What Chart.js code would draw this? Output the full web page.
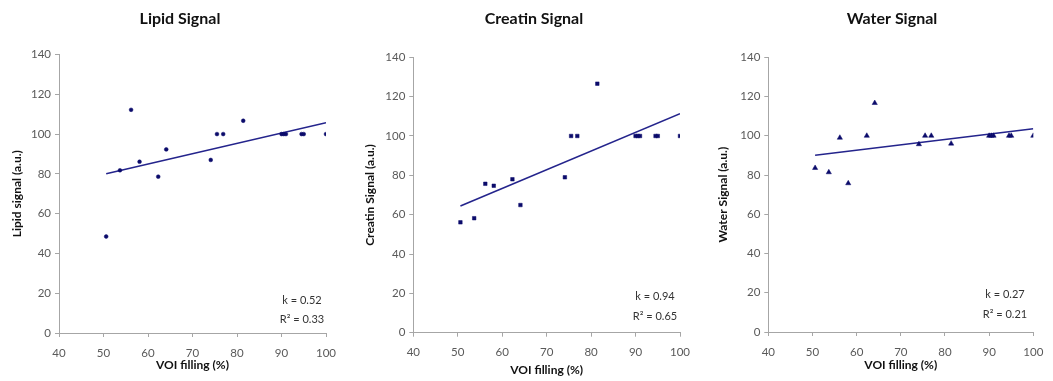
<!DOCTYPE html>
<html><head><meta charset="utf-8">
<script src="https://cdn.jsdelivr.net/npm/chart.js@4.4.1/dist/chart.umd.min.js"></script>
<style>
html,body{margin:0;padding:0;background:#fff;}
#wrap{position:relative;width:1053px;height:381px;overflow:hidden;}
.panel{position:absolute;top:0;height:381px;}
</style></head><body>
<div id="wrap">
<div class="panel" style="left:0;width:350px"><canvas id="c0"></canvas></div>
<div class="panel" style="left:350px;width:350px"><canvas id="c1"></canvas></div>
<div class="panel" style="left:700px;width:353px"><canvas id="c2"></canvas></div>
</div>
<script>
// ---- data ----
const voiFilling    = [50.6, 53.7, 56.2, 58.1, 62.3, 64.1, 74.1, 75.5, 76.9, 81.4, 90.0, 90.5, 91.0, 94.5, 95.0, 100];
const lipidSignal   = [48.5, 81.8, 112.2, 86.1, 78.6, 92.3, 87.0, 100, 100, 106.7, 100, 100, 100, 100, 100, 100];
const creatinSignal = [56.1, 58.2, 75.7, 74.7, 78.0, 64.9, 79.0, 100, 100, 126.6, 100, 100, 100, 100, 100, 100];
const waterSignal   = [83.6, 81.4, 99.0, 75.8, 100, 116.7, 95.7, 100, 100, 96.0, 100, 100, 100, 100, 100, 100];
const trendX        = [50.6, 100];
const lipidTrend    = [80.1, 105.7];
const creatinTrend  = [64.4, 111.3];
const waterTrend    = [90.1, 103.6];
const xTickValues   = [40, 50, 60, 70, 80, 90, 100];
const yTickValues   = [0, 20, 40, 60, 80, 100, 120, 140];
const chartTitles   = ['Lipid Signal', 'Creatin Signal', 'Water Signal'];
const yAxisTitles   = ['Lipid signal (a.u.)', 'Creatin Signal (a.u.)', 'Water Signal (a.u.)'];
const xAxisTitle    = 'VOI filling (%)';
const slopeLabels   = ['k = 0.52', 'k = 0.94', 'k = 0.27'];
const r2Labels      = ['R\u00B2 = 0.33', 'R\u00B2 = 0.65', 'R\u00B2 = 0.21'];

// ---- layout / style ----
const panels = [
  {w:350, aL:59,   aR:326,   aT:54.5, aB:333,   tX:180, tY:19, yTP:10,  xTPB:8.5, annX:302, kY:300.7, rY:319,   pt:'circle',   r:1.9},
  {w:350, aL:63.3, aR:330,   aT:57.3, aB:332.7, tX:184, tY:19, yTP:13,  xTPB:3.5, annX:305, kY:296.7, rY:316.7, pt:'rect',     r:2.5},
  {w:353, aL:68.3, aR:333.3, aT:57.3, aB:332,   tX:192, tY:19, yTP:15.5,xTPB:8.5, annX:305, kY:294.3, rY:314.3, pt:'triangle', r:3.0}
];
const seriesList = [lipidSignal, creatinSignal, waterSignal];
const trendList = [lipidTrend, creatinTrend, waterTrend];
const FONT = 'Lato, "Open Sans", sans-serif';
const markerColor = '#0b0b6b';
const lineColor = '#24248c';
const axisColor = '#a6a6a6';

const textPlugin = {
  id: 'panelText',
  afterDraw(chart, args, o) {
    const ctx = chart.ctx;
    ctx.save();
    ctx.fillStyle = '#111';
    ctx.textAlign = 'center';
    ctx.textBaseline = 'middle';
    ctx.font = 'bold 16px ' + FONT;
    ctx.fillText(o.title, o.tX, o.tY);
    ctx.fillStyle = '#333';
    ctx.font = '11px ' + FONT;
    ctx.fillText(o.k, o.annX, o.kY);
    ctx.fillText(o.r2, o.annX, o.rY);
    ctx.restore();
  }
};

panels.forEach((p, i) => {
  const pts = voiFilling.map((x, j) => ({x: x, y: seriesList[i][j]}));
  const trend = trendX.map((x, j) => ({x: x, y: trendList[i][j]}));
  new Chart(document.getElementById('c' + i), {
    type: 'scatter',
    data: {
      datasets: [
        {type: 'scatter', data: pts, pointStyle: p.pt, pointRadius: p.r, pointBackgroundColor: markerColor, pointBorderColor: markerColor, pointBorderWidth: 0.5},
        {type: 'line', data: trend, borderColor: lineColor, borderWidth: 1.6, pointRadius: 0, fill: false}
      ]
    },
    options: {
      responsive: true, maintainAspectRatio: false, animation: false,
      layout: {padding: {left: 0, right: p.w - p.aR, top: p.aT, bottom: 0}},
      plugins: {
        legend: {display: false}, tooltip: {enabled: false},
        panelText: {title: chartTitles[i], tX: p.tX, tY: p.tY, k: slopeLabels[i], r2: r2Labels[i], annX: p.annX, kY: p.kY, rY: p.rY}
      },
      scales: {
        x: {
          type: 'linear', min: 40, max: 100,
          afterBuildTicks: s => { s.ticks = xTickValues.map(v => ({value: v})); },
          afterFit: s => { s.height = 381 - p.aB; s.paddingLeft = 0; s.paddingRight = 0; },
          border: {color: axisColor, width: 1},
          grid: {drawOnChartArea: false, drawTicks: true, tickLength: 4, color: axisColor},
          ticks: {color: '#595959', font: {family: FONT, size: 11.5}, padding: 9},
          title: {display: true, text: xAxisTitle, color: '#111', font: {family: FONT, size: 12, weight: 'bold'}, padding: {top: 0, bottom: p.xTPB}}
        },
        y: {
          type: 'linear', min: 0, max: 140,
          afterBuildTicks: s => { s.ticks = yTickValues.map(v => ({value: v})); },
          afterFit: s => { s.width = p.aL; s.paddingTop = 0; s.paddingBottom = 0; },
          border: {color: axisColor, width: 1},
          grid: {drawOnChartArea: false, drawTicks: true, tickLength: 4, color: axisColor},
          ticks: {color: '#595959', font: {family: FONT, size: 11.5}, padding: 4},
          title: {display: true, text: yAxisTitles[i], color: '#111', font: {family: FONT, size: 12, weight: 'bold'}, padding: {top: p.yTP, bottom: 0}}
        }
      }
    },
    plugins: [textPlugin]
  });
});
</script>
</body></html>
